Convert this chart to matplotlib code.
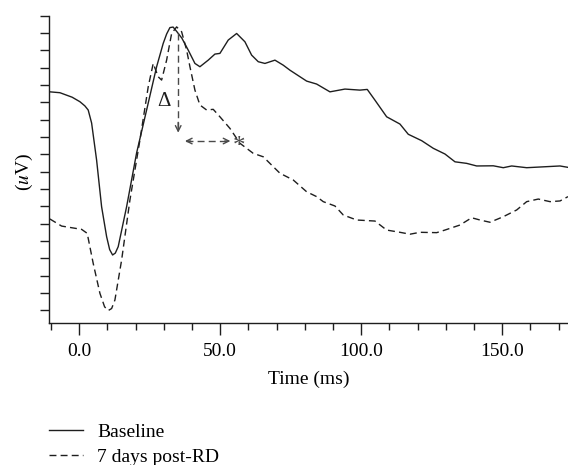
import matplotlib
matplotlib.use("Agg")
import matplotlib.pyplot as plt
from matplotlib.ticker import MultipleLocator, NullFormatter, FixedLocator

# ---- data (time in ms, amplitude in arbitrary uV units) ----
baseline_t = [-10.4, -6.84, -2.5, 0.25, 2.0, 3.19, 4.40, 6.17, 7.94, 9.72, 10.8, 11.84,
              12.8, 13.83, 16.81, 20.35, 23.90, 27.45, 29.79, 31.0, 32.16, 33.3, 34.65,
              36.4, 38.65, 41.03, 42.8, 45.74, 48.12, 49.89, 52.84, 55.82, 58.76,
              61.13, 63.48, 65.85, 69.4, 72.34, 74.72, 80.64, 84.18, 88.90, 94.22,
              99.54, 102.13, 104.86, 109.0, 113.72, 116.67, 121.42, 125.53, 129.68,
              133.23, 137.38, 140.92, 146.81, 150.35, 153.33, 158.65, 165.74, 170.46,
              173.3]
baseline_v = [12.61, 12.56, 12.3, 12.04, 11.8, 11.56, 10.81, 8.67, 5.98, 4.25, 3.5, 3.19,
              3.3, 3.67, 5.98, 9.08, 11.56, 14.06, 15.41, 15.95, 16.32, 16.35, 16.08,
              15.71, 15.02, 14.25, 14.06, 14.44, 14.79, 14.83, 15.60, 15.98, 15.50,
              14.73, 14.35, 14.25, 14.44, 14.15, 13.86, 13.23, 13.06, 12.61, 12.77,
              12.71, 12.75, 12.13, 11.17, 10.75, 10.16, 9.79, 9.35, 9.02,
              8.57, 8.48, 8.33, 8.34, 8.23, 8.33, 8.23, 8.29, 8.33,
              8.25]

post_t = [-10.4, -6.24, 0.85, 2.84, 4.96, 7.34, 9.0, 10.28, 11.5, 12.66, 15.04, 17.98,
          21.53, 24.47, 26.24, 28.01, 29.22, 30.99, 32.77, 34.54, 36.31, 38.09, 39.26,
          41.03, 42.8, 45.18, 47.52, 49.89, 53.44, 56.99, 61.7, 65.25, 68.79,
          71.17, 75.89, 80.64, 84.18, 86.52, 90.67, 93.62, 98.37, 104.86, 109.0,
          113.72, 117.27, 120.82, 126.74, 129.68, 135.0, 139.15, 142.09, 145.64,
          150.35, 155.11, 158.65, 162.77, 166.92, 170.46, 173.3]
post_v = [5.27, 4.86, 4.67, 4.44, 2.71, 0.98, 0.2, -0.02, 0.1, 0.59, 2.90, 6.36,
          9.83, 12.90, 14.25, 13.48, 13.29, 14.44, 15.98, 16.36, 16.08, 15.02, 14.06,
          12.71, 11.85, 11.56, 11.60, 11.17, 10.50, 9.64, 9.06, 8.86, 8.29,
          7.91, 7.52, 6.84, 6.56, 6.27, 6.02, 5.50, 5.21, 5.15, 4.63,
          4.50, 4.39, 4.50, 4.48, 4.63, 4.92, 5.34, 5.21, 5.08,
          5.40, 5.79, 6.27, 6.42, 6.27, 6.31, 6.56]

series_labels = ["Baseline", "7 days post-RD"]
xtick_values = [0, 50, 100, 150]
xtick_labels = ["0.0", "50.0", "100.0", "150.0"]

# annotation anchors (ms, uV)
delta_x, delta_top, delta_bottom = 35.1, 16.0, 10.25
lat_start, lat_end, lat_y = 37.5, 53.6, 9.77
delta_text_pos = (30.2, 12.08)
star_pos = (56.8, 9.45)

# ---- style ----
plt.rcParams['font.family'] = ['Liberation Serif', 'DejaVu Serif']
plt.rcParams['mathtext.fontset'] = 'stix'
FS = 14
ink = '#1e1e1e'
anno = '#4a4a4a'

fig = plt.figure(figsize=(5.68, 4.65), dpi=100)
ax = fig.add_axes([0.0868, 0.306, 1 - 0.0868, 0.966 - 0.306])

l1, = ax.plot(baseline_t, baseline_v, color=ink, lw=1.0, label=series_labels[0],
              solid_joinstyle='round')
l2, = ax.plot(post_t, post_v, color=ink, lw=1.0, ls=(0, (5, 3)), label=series_labels[1],
              dash_joinstyle='round')

ax.set_xlim(-10.6, 173.3)
ax.set_ylim(-0.72, 17)

# annotations
ax.plot([delta_x, delta_x], [delta_top, delta_bottom + 0.15], color=anno, lw=1.0, ls=(0, (5, 3)))
ax.annotate("", xy=(delta_x, delta_bottom), xytext=(delta_x, delta_bottom + 0.6),
            arrowprops=dict(arrowstyle='->', color=anno, lw=1.0, shrinkA=0, shrinkB=0,
                            mutation_scale=10))
ax.plot([lat_start + 0.2, lat_end - 0.2], [lat_y, lat_y], color=anno, lw=1.0, ls=(0, (5, 3)))
ax.annotate("", xy=(lat_start, lat_y), xytext=(lat_start + 2, lat_y),
            arrowprops=dict(arrowstyle='->', color=anno, lw=1.0, shrinkA=0, shrinkB=0,
                            mutation_scale=10))
ax.annotate("", xy=(lat_end, lat_y), xytext=(lat_end - 2, lat_y),
            arrowprops=dict(arrowstyle='->', color=anno, lw=1.0, shrinkA=0, shrinkB=0,
                            mutation_scale=10))
ax.text(*delta_text_pos, "Δ", ha='center', va='center', fontsize=FS + 1, color=ink)
ax.text(*star_pos, "*", ha='center', va='center', fontsize=FS + 4, color=anno)

# spines
for s in ['top', 'right']:
    ax.spines[s].set_visible(False)
for s in ['left', 'bottom']:
    ax.spines[s].set_color(ink)
    ax.spines[s].set_linewidth(1.0)

ax.xaxis.set_major_locator(FixedLocator(xtick_values))
ax.set_xticklabels(xtick_labels)
ax.xaxis.set_minor_locator(MultipleLocator(10))
ax.tick_params(axis='x', which='major', direction='out', length=8.4, width=1.0,
               color=ink, labelsize=FS, pad=6)
ax.tick_params(axis='x', which='minor', direction='out', length=5.3, width=1.0, color=ink)

ax.yaxis.set_major_locator(MultipleLocator(1))
ax.yaxis.set_major_formatter(NullFormatter())
ax.tick_params(axis='y', which='major', direction='out', length=6.5, width=1.0, color=ink)

ax.set_xlabel("Time (ms)", fontsize=FS, labelpad=8)
fig.text(24 / 568, 1 - 172 / 465, "($u$V)", rotation=90, ha='center', va='center',
         fontsize=FS)

fig.legend(handles=[l1, l2], loc='upper left', bbox_to_anchor=(49 / 568, 1 - 423 / 465),
           frameon=False, fontsize=FS, handlelength=1.75, handletextpad=0.72,
           labelspacing=0.4, borderpad=0, borderaxespad=0)

fig.savefig("out.png", dpi=100)
